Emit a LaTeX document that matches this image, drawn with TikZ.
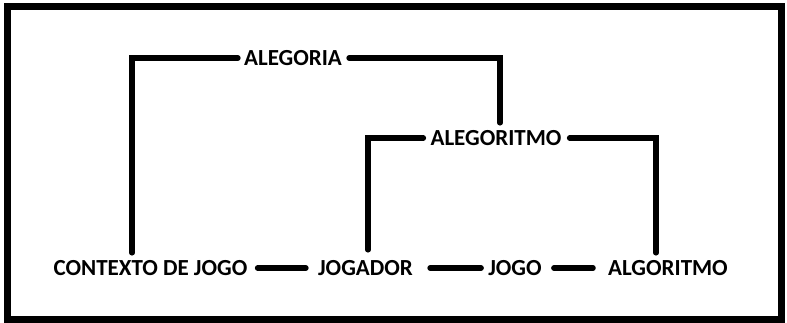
\documentclass[tikz,border=0pt]{standalone}
\usepackage{fontspec}
\setmainfont{Carlito}
\begin{document}
\begin{tikzpicture}[x=1pt,y=-1pt,
  term/.style={font=\fontsize{23}{27}\selectfont\bfseries, text height=15pt, text depth=0pt,
               inner xsep=4pt, inner ysep=7.5pt},
  link/.style={line width=5.5pt, line cap=round, line join=miter}]
  \useasboundingbox (0,0) rectangle (787,323);
  % outer frame
  \draw[line width=7pt] (7.5,7) rectangle (781.5,319);

  % terms
  \node[term] (ctx)  at (150.5,268) {CONTEXTO DE JOGO};
  \node[term] (jgd)  at (365.5,268) {JOGADOR};
  \node[term] (jogo) at (515,268)   {JOGO};
  \node[term] (algo) at (668,268)   {ALGORITMO};
  \node[term] (aleg) at (293,58)    {ALEGORIA};
  \node[term] (alei) at (496,138)   {ALEGORITMO};

  % bottom chain
  \draw[link, shorten <=6pt, shorten >=8pt] (ctx.east) -- (jgd.west);
  \draw[link, shorten <=13pt, shorten >=3pt] (jgd.east) -- (jogo.west);
  \draw[link, shorten <=8pt, shorten >=11pt] (jogo.east) -- (algo.west);

  % upper brackets
  \draw[link, shorten <=2pt] (aleg.west) -| ([xshift=-18.5pt]ctx.north);
  \draw[link, shorten <=3pt] (aleg.east) -| ([xshift=4pt]alei.north);
  \draw[link, shorten <=3pt, shorten >=3pt] (alei.west) -| ([xshift=2.5pt]jgd.north);
  \draw[link, shorten <=4pt] (alei.east) -| ([xshift=-12pt]algo.north);
\end{tikzpicture}
\end{document}
